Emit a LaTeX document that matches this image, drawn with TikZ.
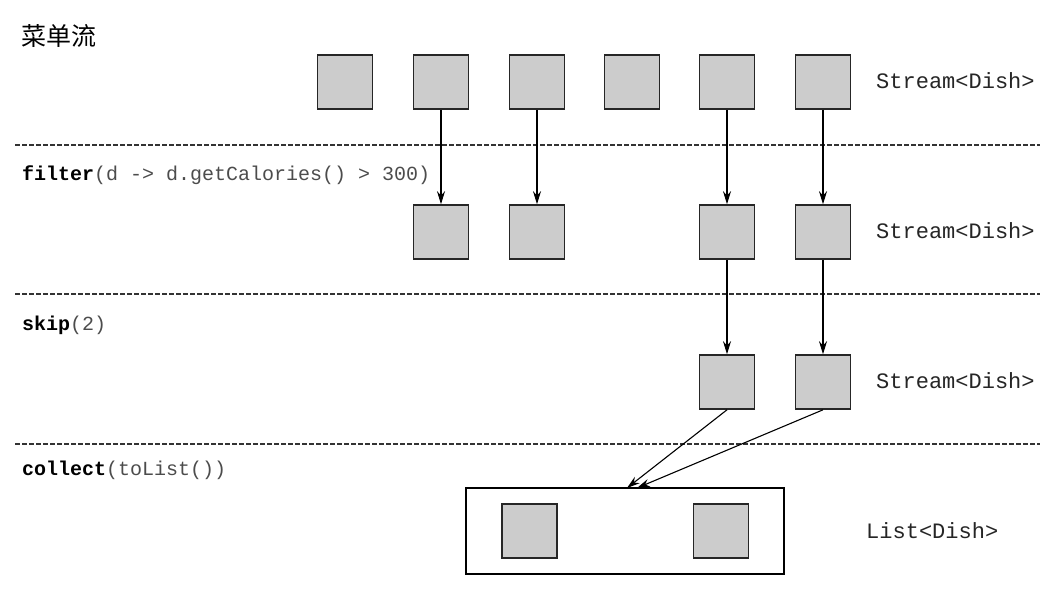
\documentclass[tikz,border=0pt]{standalone}
\usepackage{fontspec}
\setmonofont{Liberation Mono}
\newfontfamily\cjk{Noto Sans CJK SC}
\usetikzlibrary{arrows.meta}
\newcommand{\kw}[1]{\textbf{\color{black}#1}}
\begin{document}
\begin{tikzpicture}[x=1pt,y=-1pt,
  dish/.style={draw=black!85,line width=1.6pt,fill=black!20,minimum width=55pt,minimum height=54pt,inner sep=0pt},
  sep/.style={dashed,dash pattern=on 4.5pt off 2.5pt,line width=1.1pt,black!80},
  oplabel/.style={anchor=west,inner sep=0pt,text=black!70,font=\fontsize{20}{22}\selectfont\ttfamily},
  typelabel/.style={anchor=west,inner sep=0pt,text=black!85,font=\fontsize{22}{24}\selectfont\ttfamily},
  flow/.style={-{Stealth[length=13pt,width=8pt]},line width=1.1pt}]
\useasboundingbox (0,0) rectangle (1058,594);
\node[anchor=west,inner sep=0pt,font=\cjk\fontsize{25}{28}\selectfont] (title) at (21,36) {菜单流};
% rows
\node[dish] (a1) at (345,82) {};
\node[dish] (a2) at (441,82) {};
\node[dish] (a3) at (537,82) {};
\node[dish] (a4) at (632,82) {};
\node[dish] (a5) at (727,82) {};
\node[dish] (a6) at (823,82) {};
\node[typelabel] (t1) at (876,81) {Stream<Dish>};
\draw[sep] (15,145) -- (1040,145);
\node[oplabel] (op1) at (22,175) {\kw{filter}(d -> d.getCalories() > 300)};
\node[dish] (b2) at (441,232) {};
\node[dish] (b3) at (537,232) {};
\node[dish] (b5) at (727,232) {};
\node[dish] (b6) at (823,232) {};
\node[typelabel] (t2) at (876,231) {Stream<Dish>};
\draw[sep] (15,294) -- (1040,294);
\node[oplabel] (op2) at (22,325) {\kw{skip}(2)};
\node[dish] (c5) at (727,382) {};
\node[dish] (c6) at (823,382) {};
\node[typelabel] (t3) at (876,381) {Stream<Dish>};
\draw[sep] (15,444) -- (1040,444);
\node[oplabel] (op3) at (22,470) {\kw{collect}(toList())};
\node[draw,line width=1.6pt,minimum width=318pt,minimum height=86pt,inner sep=0pt] (list) at (625,531) {};
\node[dish] (d1) at (529.5,531) {};
\node[dish] (d2) at (721,531) {};
\node[typelabel] (t4) at (866,531) {List<Dish>};
\coordinate (e1) at (627,488);
\coordinate (e2) at (637,488);
% arrows
\draw[flow] (a2) -- (b2);
\draw[flow] (a3) -- (b3);
\draw[flow] (a5) -- (b5);
\draw[flow] (a6) -- (b6);
\draw[flow] (b5) -- (c5);
\draw[flow] (b6) -- (c6);
\draw[flow] (c5.south) -- (e1);
\draw[flow] (c6.south) -- (e2);
\end{tikzpicture}
\end{document}
